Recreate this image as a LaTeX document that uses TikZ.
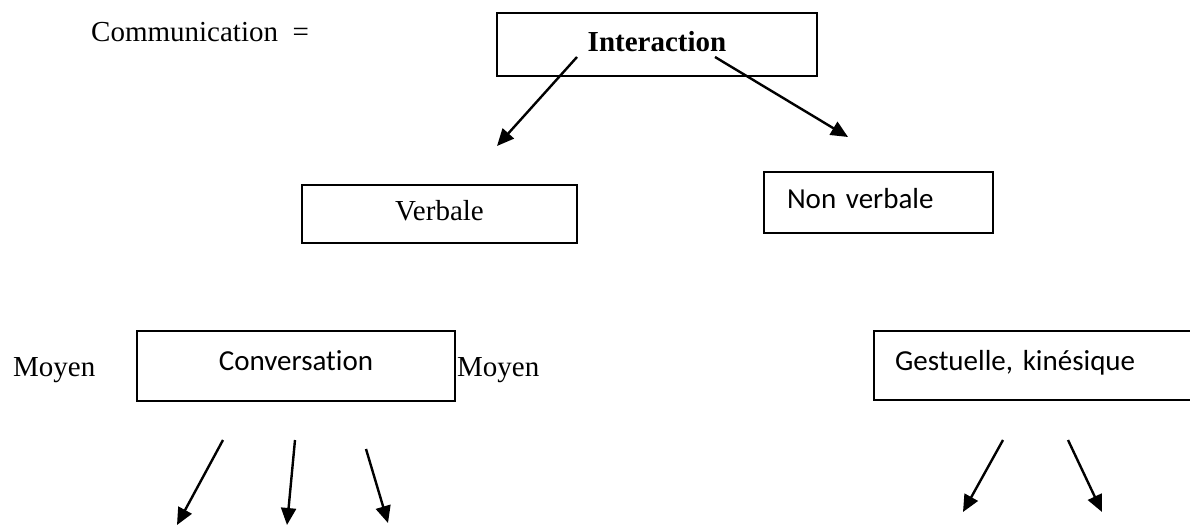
\documentclass[tikz,border=0pt]{standalone}
\usepackage{fontspec}
\setmainfont{Liberation Serif}
\newfontfamily\calibri[Ligatures=NoCommon]{Carlito}
\usetikzlibrary{arrows.meta}
\tikzset{
  box/.style={draw, line width=1.7pt, inner sep=0pt, text height=20pt, text depth=6pt,
    font=\fontsize{29pt}{34pt}\selectfont},
  lowtext/.style={text height=20pt, text depth=11pt},
  sans/.style={font=\calibri\fontsize{29pt}{34pt}\selectfont},
  txt/.style={inner sep=0pt, font=\fontsize{29pt}{34pt}\selectfont},
  arr/.style={line width=2.4pt, -{Triangle[length=17pt,width=15pt]}}
}
\begin{document}
\begin{tikzpicture}[x=1pt,y=-1pt]
\useasboundingbox (0,0) rectangle (1190,526);
\clip (0,0) rectangle (1190,526);
% boxes
\node[box, minimum width=320pt, minimum height=63pt] (inter) at (657,44.5) {\bfseries Interaction};
\node[box, minimum width=275pt, minimum height=58pt, text depth=7pt] (verb) at (439.5,214) {Verbale};
\node[box, sans, minimum height=61pt, inner xsep=23pt, text width=183pt, align=left,
      text depth=8pt] (nonverb) at (878.5,202.5) {Non verbale};
\node[box, sans, lowtext, minimum width=318pt, minimum height=70pt] (conv) at (296,366) {Conversation};
\node[box, sans, lowtext, minimum height=69pt, inner xsep=21pt, text width=294pt, align=left]
      (gest) at (1042,365.5) {Gestuelle, kinésique};
% free texts
\node[txt, anchor=base west] (comm) at (91,42) {Communication\ \ =};
\node[txt, anchor=base west] (moyen1) at (13,376) {Moyen};
\node[txt, anchor=base west] (moyen2) at (457,376) {Moyen};
% arrow end points
\coordinate (a1s) at (577,57);   \coordinate (a1e) at (497,146);
\coordinate (a2s) at (715,57);   \coordinate (a2e) at (848,137);
\coordinate (b1s) at (223,440);  \coordinate (b1e) at (177,525);
\coordinate (b2s) at (295,440);  \coordinate (b2e) at (287,525);
\coordinate (b3s) at (366,449);  \coordinate (b3e) at (388,523);
\coordinate (g1s) at (1003,440); \coordinate (g1e) at (963,512);
\coordinate (g2s) at (1068,440); \coordinate (g2e) at (1102,512);
% arrows
\draw[arr] (a1s) -- (a1e);
\draw[arr] (a2s) -- (a2e);
\draw[arr] (b1s) -- (b1e);
\draw[arr] (b2s) -- (b2e);
\draw[arr] (b3s) -- (b3e);
\draw[arr] (g1s) -- (g1e);
\draw[arr] (g2s) -- (g2e);
\end{tikzpicture}
\end{document}
